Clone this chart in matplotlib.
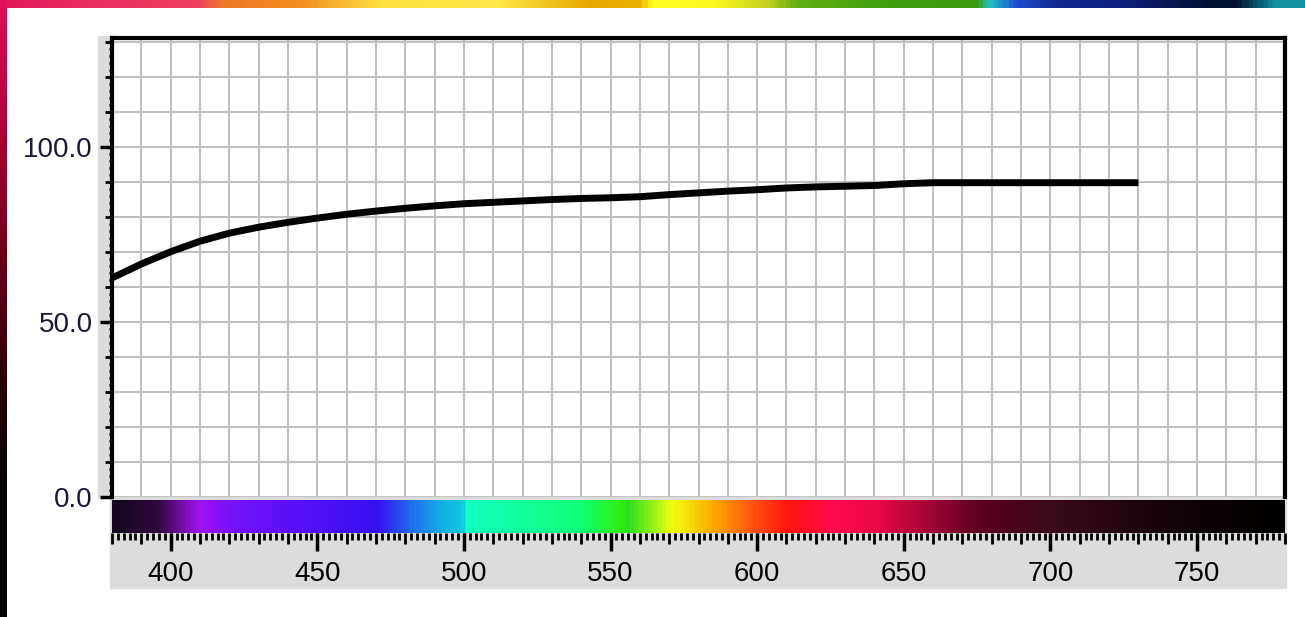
import numpy as np
import matplotlib
matplotlib.use("Agg")
import matplotlib.pyplot as plt
from matplotlib.colors import LinearSegmentedColormap
from matplotlib.patches import Rectangle

# reflectance curve (nm, %)
wavelength = [380, 390, 400, 410, 420, 430, 440, 450, 460, 470, 480, 490,
              500, 510, 520, 530, 540, 550, 560, 570, 580, 590, 600, 610,
              620, 630, 640, 650, 660, 670, 680, 690, 700, 710, 720, 730]
reflectance = [62.5, 66.5, 70.0, 73.0, 75.3, 77.0, 78.4, 79.6, 80.7, 81.6, 82.4, 83.1,
               83.7, 84.1, 84.5, 84.9, 85.2, 85.4, 85.7, 86.3, 86.8, 87.3, 87.7, 88.2,
               88.5, 88.7, 88.9, 89.4, 89.7, 89.7, 89.7, 89.7, 89.7, 89.7, 89.7, 89.7]

x_labels = [400, 450, 500, 550, 600, 650, 700, 750]
y_labels = [0, 50, 100]

# spectrum strip colour stops (nm, colour)
spec_nm = [380, 395, 409, 420, 445, 470, 482, 492, 499, 500, 540, 553, 556, 571,
           586, 600, 611, 627, 642, 675, 700, 740, 780]
spec_col = ["#14061e", "#30083e", "#a412f6", "#7412f8", "#5410f6", "#3410ee", "#2070ee",
            "#10b0e4", "#10c4e0", "#10ffc4", "#10ff74", "#30f010", "#28e020", "#f0ff10",
            "#ffa400", "#ff4a10", "#ff1410", "#ff0850", "#e80848", "#600022", "#3a0a18",
            "#140408", "#000000"]

# window frame decoration (screenshot border)
top_pos = [0, 0.05, 0.15, 0.17, 0.23, 0.29, 0.38, 0.45, 0.49, 0.5, 0.55, 0.59, 0.61,
           0.68, 0.75, 0.76, 0.78, 0.81, 0.86, 0.93, 0.95, 0.98, 1.0]
top_col = ["#e01858", "#e82860", "#f04060", "#f07828", "#f09020", "#ffe040", "#ffe848",
           "#e8a800", "#e8b000", "#ffff20", "#f8f820", "#c0d020", "#60b010", "#40a010",
           "#3c9c10", "#20c0c0", "#2050d0", "#102a90", "#102080", "#001030", "#001030",
           "#1090a0", "#1090a0"]
left_col = ["#e0105a", "#b00038", "#700018", "#300008", "#000000", "#000000"]

W, H = 1305, 617
fig = plt.figure(figsize=(W / 100, H / 100), dpi=100)
fig.patch.set_facecolor("white")


def box(x0, y0, x1, y1):
    return [x0 / W, 1 - y1 / H, (x1 - x0) / W, (y1 - y0) / H]


# grey panels behind the axes
fig.patches.append(Rectangle((98 / W, 1 - 497 / H), 12 / W, 461 / H,
                             transform=fig.transFigure, color="#dcdcdc", zorder=-5))
fig.patches.append(Rectangle((110 / W, 1 - 588 / H), 1176 / W, 91 / H,
                             transform=fig.transFigure, color="#dcdcdc", zorder=-5))

# frame decoration
top_cmap = LinearSegmentedColormap.from_list("top", list(zip(top_pos, top_col)))
tax = fig.add_axes(box(0, 0, W, 8))
tax.imshow(np.linspace(0, 1, 600)[None, :], cmap=top_cmap, aspect="auto")
tax.axis("off")
left_cmap = LinearSegmentedColormap.from_list("left", left_col)
lax = fig.add_axes(box(0, 0, 7, H))
lax.imshow(np.linspace(0, 1, 300)[:, None], cmap=left_cmap, aspect="auto")
lax.axis("off")

# main plot
ax = fig.add_axes(box(112, 38, 1285, 497))
ax.set_facecolor("white")
ax.plot(wavelength, reflectance, color="black", lw=5, solid_capstyle="butt", zorder=3)
ax.set_xlim(380, 780)
ax.set_ylim(0, 131)
ax.set_xticks(np.arange(390, 781, 10))
ax.set_yticks(np.arange(0, 131, 10))
ax.set_yticks(np.arange(0, 131, 2), minor=True)
ax.grid(True, color="#c0c0c0", lw=1.5)
ax.set_axisbelow(True)
ax.tick_params(axis="x", length=0, labelbottom=False)
ax.tick_params(axis="y", which="major", direction="out", length=5, width=2,
               color="black", labelleft=False)
ax.tick_params(axis="y", which="minor", direction="out", length=2.5, width=2,
               color="black")
for s in ["top", "left", "right"]:
    ax.spines[s].set_color("black")
    ax.spines[s].set_linewidth(3)
ax.spines["bottom"].set_visible(False)

ysec = ax.secondary_yaxis("left")
ysec.set_yticks(y_labels)
ysec.set_yticklabels([f"{v:.1f}" for v in y_labels])
ysec.tick_params(direction="out", length=9, width=2.5, color="black", pad=5,
                 labelsize=20, labelcolor="#181838")
for s in ysec.spines.values():
    s.set_visible(False)
for t in ysec.get_yticklabels():
    t.set_fontfamily("Liberation Sans")

# spectrum bar with wavelength scale
spec_cmap = LinearSegmentedColormap.from_list(
    "spec", [((n - 380) / 400, c) for n, c in zip(spec_nm, spec_col)])
cax = fig.add_axes(box(112, 500, 1285, 533))
cax.imshow(np.linspace(380, 780, 800)[None, :], cmap=spec_cmap, aspect="auto",
           extent=[380, 780, 0, 1], vmin=380, vmax=780)
cax.set_xlim(380, 780)
cax.set_yticks([])
cax.set_xticks(np.arange(380, 781, 10))
cax.set_xticks(np.arange(380, 781, 2), minor=True)
cax.tick_params(axis="x", which="major", direction="out", length=8, width=2,
                color="black", labelbottom=False)
cax.tick_params(axis="x", which="minor", direction="out", length=5, width=2,
                color="black")
for s in cax.spines.values():
    s.set_visible(False)

xsec = cax.secondary_xaxis("bottom")
xsec.set_xticks(x_labels)
xsec.tick_params(direction="out", length=13, width=2.5, color="black", pad=7,
                 labelsize=20, labelcolor="black")
for s in xsec.spines.values():
    s.set_visible(False)
for t in xsec.get_xticklabels():
    t.set_fontfamily("Liberation Sans")

fig.savefig("out.png", dpi=100, facecolor="white")
